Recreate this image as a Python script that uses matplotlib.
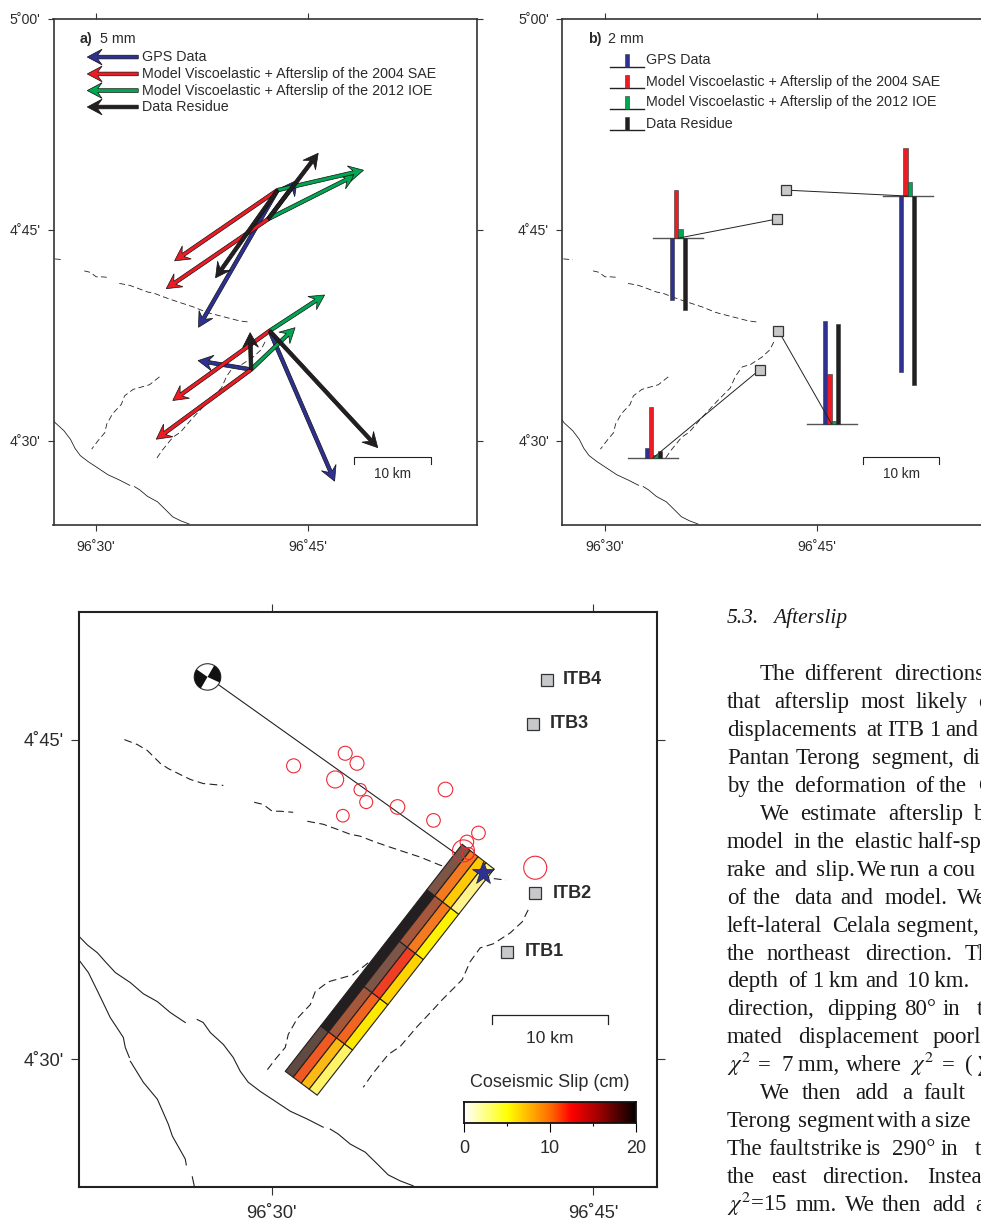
import numpy as np
import matplotlib
matplotlib.use("Agg")
import matplotlib.pyplot as plt
from matplotlib.colors import LinearSegmentedColormap
from matplotlib.collections import PolyCollection
from matplotlib.patches import Circle, Wedge

plt.rcParams['font.family'] = ['Liberation Sans', 'DejaVu Sans']
plt.rcParams['mathtext.fontset'] = 'stix'

W, H = 981, 1220
nan = float('nan')

# All map positions are arc minutes: east of 96 deg 30', north of 4 deg 30'
coast_x = [-8.98, -8.61, -8.14, -7.77, -7.3, -6.6, -6.0, -5.34, -4.74, -4.04, nan,
           -3.48, -3.2, -2.87, -2.26, -1.8, -1.47, -1.1, -0.54, 0.02, 0.86, 1.66, 2.4, nan,
           2.73, 3.1, 3.66, 4.36, 4.92, 5.44, 6.0, 6.6]
coast_y = [5.75, 5.37, 5.0, 4.58, 4.07, 3.6, 3.08, 2.71, 2.2, 1.73, nan,
           1.87, 1.73, 1.26, 0.7, 0.09, -0.56, -1.07, -1.5, -1.87, -2.43, -2.8, -3.18, nan,
           -3.27, -3.5, -3.97, -4.35, -4.9, -5.42, -5.7, -5.93]
inland_x = [-8.98, -8.56, -8.1, -7.54, -6.93, -6.84, -6.65, nan, -6.6, -6.0, -5.34, -4.83, -4.64,
            -4.04, -3.99, nan, -3.71, -3.62]
inland_y = [4.63, 4.07, 3.13, 1.96, 1.03, 0.56, 0.09, nan, -0.09, -1.07, -1.87, -3.04, -3.6,
            -4.67, -4.95, nan, -5.51, -5.93]

dash1_x = [-6.88, -6.28, -5.81, -5.2, -4.83, -4.27, -3.8, -3.2, -2.26]
dash1_y = [15.0, 14.77, 14.49, 13.88, 13.64, 13.36, 13.13, 12.94, 12.85]
dash2_x = [-0.82, -0.4, 0.02, 0.4, 1.0, nan, 1.66, 2.4, 3.06, 3.66, 4.13, 4.74, 5.39, 6.23, 6.93,
           7.86, 8.19, 10.2, 10.94]
dash2_y = [12.06, 11.96, 11.64, 11.64, 11.59, nan, 11.17, 11.03, 10.79, 10.56, 10.47, 10.23, 10.0,
           9.72, 9.49, 9.11, 9.02, 8.5, 8.41]
dash3_x = [11.97, 11.69, 11.13, 10.34, 9.73, 9.26, 8.89, 7.96, 7.54, 6.79, 6.0, 5.44, 4.69, 4.27]
dash3_y = [7.01, 6.45, 5.93, 5.42, 5.23, 4.58, 3.74, 2.8, 2.34, 1.54, 0.61, 0.23, -0.7, -1.31]
dash4_x = [4.5, 3.8, 2.64, 2.03, 1.8, 1.19, 0.77, 0.63, 0.16, -0.3]
dash4_y = [4.53, 3.97, 3.64, 3.18, 2.57, 1.92, 1.17, 0.56, 0.0, -0.61]

# stations ITB1..ITB4
station_names = ['ITB1', 'ITB2', 'ITB3', 'ITB4']
station_x = [10.99, 12.3, 12.2, 12.86]
station_y = [5.05, 7.8, 15.75, 17.8]
label_x = [11.8, 13.1, 12.99, 13.59]

# horizontal displacement in mm (east, north)
gps_e = [-5.2, 6.37, 2.84, -7.75]
gps_n = [0.88, -14.8, 3.82, -13.5]
sae_e = [-9.3, -9.5, -10.0, -10.1]
sae_n = [-6.86, -6.86, -6.86, -6.96]
ioe_e = [4.31, 5.39, 8.53, 8.43]
ioe_n = [4.12, 3.53, 4.31, 1.96]
res_e = [-0.1, 10.6, 4.9, -6.08]
res_n = [3.63, -11.5, 6.47, -8.63]

# vertical displacement in mm, and where each bar group sits on the map
gps_up = [1.5, 15.8, -9.5, -27.0]
sae_up = [7.8, 7.6, 7.4, 7.4]
ioe_up = [0.46, 0.4, 1.4, 2.2]
res_up = [1.03, 15.3, -11.0, -29.0]
base_x = [3.44, 16.06, 5.21, 21.45]
base_y = [-1.22, 1.19, 14.39, 17.38]

# coseismic slip in cm, rows from south-west to north-east, columns deep to shallow
slip_row1 = [17, 10, 7, 2.5]
slip_row2 = [20, 13, 9.5, 4.5]
slip_row3 = [20, 15, 11, 5.5]
slip_row4 = [20, 13, 8.5, 4]
slip_row5 = [15, 8.5, 6, 2]
fault_sw_deep = (0.63, -0.56)
fault_sw_shallow = (2.12, -1.68)
fault_ne_deep = (8.89, 10.09)
fault_ne_shallow = (10.38, 8.93)

# aftershocks (size is the drawn radius)
quake_x = [1.02, 3.43, 2.96, 3.32, 3.98, 4.13, 4.41, 5.87, 8.11, 7.55, 9.65, 9.11, 8.95, 9.18, 12.3]
quake_y = [13.77, 14.36, 13.13, 11.43, 13.89, 12.65, 12.07, 11.84, 12.66, 11.21, 10.62, 10.2, 9.78, 9.66, 8.99]
quake_size = [7, 7, 8.5, 6.3, 7, 6.2, 6.5, 7.3, 7.3, 6.8, 6.8, 6.8, 11, 6, 11.5]
epicentre = (9.87, 8.74)
ball = (-3.0, 17.94)

legend_labels = ['GPS Data', 'Model Viscoelastic + Afterslip of the 2004 SAE',
                 'Model Viscoelastic + Afterslip of the 2012 IOE', 'Data Residue']

# running text beside the lower map: baseline, then (x, word) pairs
text_rows = [
    (680, [(760, 'The'), (804, 'different'), (894, 'directions')]),
    (708, [(727, 'that'), (774, 'afterslip'), (861, 'most'), (916, 'likely'), (978, 'o')]),
    (736, [(727, 'displacements'), (866, 'at'), (887, 'ITB'), (929, '1'), (945, 'and')]),
    (764, [(727, 'Pantan'), (796, 'Terong'), (872, 'segment,'), (962, 'di')]),
    (792, [(727, 'by'), (757, 'the'), (794, 'deformation'), (915, 'of'), (939, 'the'), (978, 'C')]),
    (820, [(760, 'We'), (800, 'estimate'), (888, 'afterslip'), (973, 'b')]),
    (848, [(727, 'model'), (794, 'in'), (817, 'the'), (854, 'elastic'), (918, 'half-sp')]),
    (876, [(727, 'rake'), (774, 'and'), (816, 'slip.'), (857, 'We'), (890, 'run'), (927, 'a'), (942, 'cou')]),
    (904, [(727, 'of'), (753, 'the'), (794, 'data'), (840, 'and'), (885, 'model.'), (957, 'We')]),
    (932, [(727, 'left-lateral'), (832, 'Celala'), (897, 'segment,')]),
    (960, [(727, 'the'), (767, 'northeast'), (865, 'direction.'), (965, 'Th')]),
    (987, [(727, 'depth'), (788, 'of'), (813, '1\u2009km'), (865, 'and'), (907, '10\u2009km.')]),
    (1015, [(727, 'direction,'), (827, 'dipping'), (904, '80\u00b0'), (943, 'in'), (977, 't')]),
    (1043, [(727, 'mated'), (798, 'displacement'), (933, 'poorl')]),
    (1071, [(727, r'$\chi^2$'), (758, '='), (782, '7\u2009mm,'), (846, 'where'), (910, r'$\chi^2$'), (942, '='), (965, '(\u2009\u2211')]),
    (1099, [(760, 'We'), (802, 'then'), (855, 'add'), (902, 'a'), (923, 'fault')]),
    (1127, [(727, 'Terong'), (798, 'segment'), (877, 'with'), (920, 'a'), (935, 'size')]),
    (1155, [(727, 'The'), (768, 'fault'), (811, 'strike'), (866, 'is'), (892, '290\u00b0'), (941, 'in'), (975, 't')]),
    (1183, [(727, 'the'), (771, 'east'), (822, 'direction.'), (927, 'Instea')]),
    (1211, [(727, r'$\chi^2$=15'), (796, 'mm.'), (845, 'We'), (882, 'then'), (932, 'add'), (975, 'a')]),
]

BLUE, RED, GREEN, BLACK = '#2e3192', '#ed1c24', '#00a651', '#231f20'
GREY = '#c7c8ca'
TXT = '#2b2b2b'
MM_A = 0.722   # arc minutes per mm on the arrow map
MM_B = 0.462   # arc minutes per mm on the bar map

slip_cells = LinearSegmentedColormap.from_list('cells', [
    (0.0, '#ffffff'), (0.1, '#fff38b'), (0.2, '#fff200'), (0.275, '#ffd200'), (0.35, '#fdb913'),
    (0.425, '#f47920'), (0.5, '#f15a22'), (0.55, '#ee3d23'), (0.65, '#a5573c'), (0.75, '#7d5546'),
    (0.85, '#5f4b42'), (1.0, '#231f20')])
slip_bar = LinearSegmentedColormap.from_list('slip', [
    (0.0, '#ffffff'), (0.25, '#ffff00'), (0.5, '#ff6a00'), (0.62, '#ff0000'), (0.78, '#a00000'), (1.0, '#000000')])


def add_axes(left, top, right, bottom):
    return fig.add_axes([left / W, 1 - bottom / H, (right - left) / W, (bottom - top) / H])


def setup_map(ax, xlim, ylim, yticks, ylabels, size, ticklen, pad_x, pad_y, frame):
    ax.set_xlim(*xlim)
    ax.set_ylim(*ylim)
    ax.set_xticks([0, 15], ["96\u02da30'", "96\u02da45'"])
    ax.set_yticks(yticks, ylabels)
    ax.tick_params(axis='x', top=True, length=ticklen, width=0.8, color='#333333', labelsize=size,
                   labelcolor=TXT, pad=pad_x)
    ax.tick_params(axis='y', right=True, length=ticklen, width=0.8, color='#333333', labelsize=size,
                   labelcolor=TXT, pad=pad_y)
    for s in ax.spines.values():
        s.set_linewidth(frame)
        s.set_color('#333333')


def draw_faults(ax, lw):
    for x, y in [(coast_x, coast_y), (inland_x, inland_y)]:
        ax.plot(x, y, color='#222222', lw=lw, zorder=1)
    for x, y in [(dash1_x, dash1_y), (dash2_x, dash2_y), (dash3_x, dash3_y), (dash4_x, dash4_y)]:
        ax.plot(x, y, color='#222222', lw=lw, ls=(0, (7, 4)), zorder=1)


def scale_bar(ax, size, text_y):
    ax.plot([18.28, 18.28, 23.7, 23.7], [-1.66, -1.19, -1.19, -1.66], color='#222222', lw=0.8)
    ax.text(20.99, text_y, '10 km', ha='center', va='center', fontsize=size, color=TXT)


def arrow(ax, x, y, dx, dy, color):
    ax.arrow(x, y, dx, dy, width=0.26, head_width=1.12, head_length=1.05, overhang=0.3,
             length_includes_head=True, fc=color, ec='#111111', lw=0.5, zorder=3)


fig = plt.figure(figsize=(W / 100, H / 100), dpi=100)

# --- panel a: horizontal displacement ---
ax_a = add_axes(53.5, 18.5, 477.3, 525)
setup_map(ax_a, (-3, 27), (-6, 30), [0, 15, 30], ["4\u02da30'", "4\u02da45'", "5\u02da00'"], 10.2, 4.5, 6, 5, 1.2)
draw_faults(ax_a, 0.6)
for east, north, color in [(gps_e, gps_n, BLUE), (sae_e, sae_n, RED), (ioe_e, ioe_n, GREEN), (res_e, res_n, BLACK)]:
    for i in range(4):
        arrow(ax_a, station_x[i], station_y[i], east[i] * MM_A, north[i] * MM_A, color)
ax_a.text(-1.18, 28.54, 'a)', fontweight='bold', fontsize=10.3, va='center', color=TXT)
ax_a.text(0.29, 28.54, '5 mm', fontsize=10.3, va='center', color=TXT)
for label, y, color in zip(legend_labels, [27.26, 26.06, 24.88, 23.71], [BLUE, RED, GREEN, BLACK]):
    arrow(ax_a, 3.0, y, -5 * MM_A, 0, color)
    ax_a.text(3.26, y, label, fontsize=10.3, va='center', color=TXT)
scale_bar(ax_a, 9.8, -2.4)

# --- panel b: vertical displacement ---
ax_b = add_axes(562.3, 18.5, 986.1, 525)
setup_map(ax_b, (-3, 27), (-6, 30), [0, 15, 30], ["4\u02da30'", "4\u02da45'", "5\u02da00'"], 10.2, 4.5, 6, 5, 1.2)
draw_faults(ax_b, 0.6)
offsets = [-0.45, -0.15, 0.15, 0.45]
colors = [BLUE, RED, GREEN, BLACK]
for i in range(4):
    ax_b.plot([base_x[i] - 1.77, base_x[i] + 1.77], [base_y[i], base_y[i]], color='#555555', lw=1.0, zorder=2)
    for up, off, color in zip([gps_up, sae_up, ioe_up, res_up], offsets, colors):
        ax_b.bar(base_x[i] + off, up[i] * MM_B, bottom=base_y[i], width=0.3, color=color,
                 edgecolor='#333333', lw=0.4, zorder=3)
    ax_b.plot([station_x[i], base_x[i]], [station_y[i], base_y[i]], color='#222222', lw=0.7, zorder=4)
    ax_b.plot(station_x[i], station_y[i], 's', ms=6.9, mfc=GREY, mec='#333333', mew=0.9, zorder=5)
ax_b.text(-1.2, 28.54, 'b)', fontweight='bold', fontsize=10.3, va='center', color=TXT)
ax_b.text(0.23, 28.54, '2 mm', fontsize=10.3, va='center', color=TXT)
for label, y, ty, color in zip(legend_labels, [26.58, 25.07, 23.6, 22.1], [27.05, 25.52, 24.06, 22.53], colors):
    ax_b.plot([0.38, 2.78], [y, y], color='#222222', lw=1.0, zorder=2)
    ax_b.bar(1.58, 2 * MM_B, bottom=y, width=0.3, color=color, edgecolor='#333333', lw=0.4, zorder=3)
    ax_b.text(2.96, ty, label, fontsize=10.3, va='center', color=TXT)
scale_bar(ax_b, 9.8, -2.4)

# --- panel c: coseismic slip, aftershocks, stations ---
ax_c = add_axes(79, 611.7, 657.3, 1187.3)
setup_map(ax_c, (-9, 18), (-6, 21), [0, 15], ["4\u02da30'", "4\u02da45'"], 13.2, 6, 7, 5, 1.5)
for s in ax_c.spines.values():
    s.set_color('#222222')
draw_faults(ax_c, 0.8)

# leader from the focal mechanism to the epicentre, under the fault plane
ax_c.plot([ball[0], epicentre[0]], [ball[1], epicentre[1]], color='#222222', lw=0.8, zorder=2)

slip = np.array([slip_row1, slip_row2, slip_row3, slip_row4, slip_row5], dtype=float)
sw_d, sw_s, ne_d, ne_s = [np.array(p) for p in (fault_sw_deep, fault_sw_shallow, fault_ne_deep, fault_ne_shallow)]
cells, cell_slip = [], []


def corner(r, c):
    left = sw_d + (ne_d - sw_d) * r / slip.shape[0]
    right = sw_s + (ne_s - sw_s) * r / slip.shape[0]
    return left + (right - left) * c / slip.shape[1]


for r in range(slip.shape[0]):
    for c in range(slip.shape[1]):
        cells.append([corner(r, c), corner(r, c + 1), corner(r + 1, c + 1), corner(r + 1, c)])
        cell_slip.append(slip[r, c])
plane = PolyCollection(cells, array=np.array(cell_slip), cmap=slip_cells, clim=(0, 20),
                       edgecolors='#231f20', linewidths=0.8, zorder=3)
ax_c.add_collection(plane)

ax_c.scatter(quake_x, quake_y, s=[(2 * r * 0.72) ** 2 for r in quake_size], facecolors='none',
             edgecolors='#ee2a35', linewidths=0.8, zorder=4)
ax_c.plot(*epicentre, marker='*', ms=17, mfc=BLUE, mec='#222222', mew=0.5, zorder=5)

ax_c.add_patch(Circle(ball, 0.62, fc='white', ec='#333333', lw=0.8, zorder=5))
ax_c.add_patch(Wedge(ball, 0.62, 145, 240, fc='#111111', ec='none', zorder=6))
ax_c.add_patch(Wedge(ball, 0.62, -25, 60, fc='#111111', ec='none', zorder=6))

for i in range(4):
    ax_c.plot(station_x[i], station_y[i], 's', ms=8.6, mfc=GREY, mec='#333333', mew=0.9, zorder=5)
    ax_c.text(label_x[i], station_y[i], station_names[i], fontweight='bold', fontsize=13, va='center', color=TXT)

ax_c.plot([10.3, 10.3, 15.72, 15.72], [1.65, 2.06, 2.06, 1.65], color='#222222', lw=0.9)
ax_c.text(12.98, 1.0, '10 km', ha='center', va='center', fontsize=12.5, color=TXT)
ax_c.text(12.97, -1.1, 'Coseismic Slip (cm)', ha='center', va='center', fontsize=13, color=TXT)

cax = add_axes(464.3, 1102, 636, 1122.7)
grad = np.linspace(0, 20, 256)
cax.pcolormesh(grad, [0, 1], np.vstack([grad[:-1]]), cmap=slip_bar, vmin=0, vmax=20)
cax.set_yticks([])
cax.set_xticks([0, 10, 20], ['0', '10', '20'])
cax.set_xticks([5, 15], minor=True)
cax.tick_params(axis='x', which='major', length=6.5, width=0.8, labelsize=13, labelcolor=TXT, pad=6)
cax.tick_params(axis='x', which='minor', length=2.5, width=0.8)
for s in cax.spines.values():
    s.set_linewidth(1.3)
    s.set_color('#111111')

# --- page text on the right ---
fig.text(727 / W, 1 - 623 / H, '5.3.', family='Liberation Serif', style='italic', fontsize=15.5, color='#1a1a1a')
fig.text(773 / W, 1 - 623 / H, 'Afterslip', family='Liberation Serif', style='italic', fontsize=15.5, color='#1a1a1a')
for baseline, words in text_rows:
    for x, word in words:
        fig.text(x / W, 1 - baseline / H, word, family='Liberation Serif', fontsize=16.5, color='#1a1a1a')

fig.savefig('out.png', dpi=100)
